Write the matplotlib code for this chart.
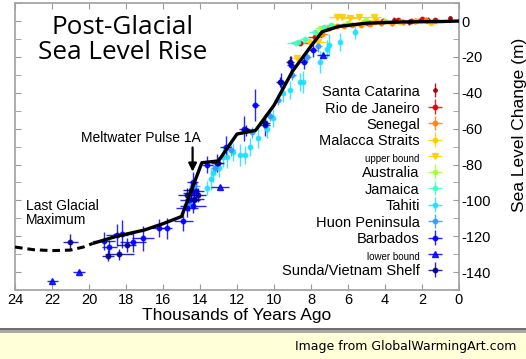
"""Post-Glacial Sea Level Rise — reconstruction"""

import matplotlib
matplotlib.use('Agg')
import matplotlib.pyplot as plt
from matplotlib.patches import Rectangle
from matplotlib.ticker import MultipleLocator

plt.rcParams['font.family'] = ['Liberation Sans', 'DejaVu Sans']
plt.rcParams['axes.unicode_minus'] = False

# средняя кривая (тыс. лет назад, м)
curve_t = [19.8, 18.5, 17.0, 16.0, 15.0, 13.9, 13.0, 12.0, 11.0, 10.0,
           9.0, 8.0, 7.4, 6.5, 5.0, 3.0, 1.0, 0.0]
curve_v = [-124, -120, -116.5, -113, -109, -79, -78, -63, -61, -47,
           -28, -14, -6, -3, -1.2, -0.5, -0.3, 0]
lgm_t = [24.0, 23.0, 22.0, 21.0, 20.3, 19.8]
lgm_v = [-126, -127.5, -128, -127.7, -126, -124]

# данные по участкам: время, уровень, ошибки
santa_t = [4.5, 3.5, 2.7, 1.7, 0.49]
santa_v = [0, 0.5, -0.5, 0.8, 1.5]
santa_verr = [1.5, 1.5, 1.5, 1.5, 1.5]

rio_t = [8.6, 7.78, 4.9, 4.1, 3.3, 2.6, 2.0, 1.3]
rio_v = [-12, -8.7, -1, 0, 0.5, 0, 1, 0.5]
rio_terr = [0.5, 0.4, 0.3, 0.3, 0.3, 0.3, 0.3, 0.3]
rio_verr = [1, 1, 1, 1, 1, 1, 1, 1]

senegal_t = [7.4, 7.0, 6.6, 6.2, 5.8, 5.3, 4.8, 4.2, 3.6, 3.0, 2.4, 1.8]
senegal_v = [-7, -4, -3, -2.5, -2, -2, -1.5, -1, -1, -0.5, 0, 0.5]
senegal_terr = [0.3, 0.3, 0.3, 0.3, 0.3, 0.3, 0.3, 0.3, 0.3, 0.3, 0.3, 0.3]
senegal_verr = [1.5, 1.5, 1.5, 1.5, 1.5, 1.5, 1.5, 1.5, 1.5, 1.5, 1.5, 1.5]

malacca_t = [8.05, 7.6, 6.9, 6.0, 5.2, 4.5, 3.2, 2.3, 1.5]
malacca_v = [-11.5, -8, -3, -1.5, -1, 0.5, -0.5, 0, -1]
malacca_terr = [0.4, 0.3, 0.3, 0.3, 0.3, 0.3, 0.3, 0.3, 0.3]
malacca_verr = [1, 1, 1, 1, 1, 1, 1, 1, 1]

upper_t = [8.77, 7.6, 6.6, 6.3, 5.9, 5.4, 4.6]
upper_v = [-20.8, -11.5, 2, 2.5, 1.5, 2, 2.5]
upper_terr = [0.4, 0.4, 0.4, 0.4, 0.4, 0.4, 0.4]

australia_t = [7.5, 6.8, 6.0, 5.0, 4.0]
australia_v = [-4, -2.5, -1, 0.5, 0]
australia_terr = [0.3, 0.3, 0.3, 0.3, 0.3]
australia_verr = [1, 1, 1, 1, 1]

jamaica_t = [8.8, 8.7, 8.3, 7.8, 7.3, 6.9]
jamaica_v = [-12, -11.5, -10, -6, -3.5, -2]
jamaica_terr = [0.5, 0.4, 0.3, 0.3, 0.3, 0.3]
jamaica_verr = [1, 1, 1, 1, 1, 1]

tahiti_t = [13.64, 13.4, 13.3, 12.95, 12.74, 12.56, 12.2, 11.84, 11.57, 11.3,
            10.85, 10.4, 10.05, 9.5, 9.13, 8.6, 8.43, 7.5, 7.15, 7.0, 6.43, 5.6]
tahiti_v = [-93, -88, -85, -82, -75.6, -76, -73, -74.7, -74.7, -70,
            -65, -60, -54, -40, -38.5, -33.8, -34, -22.7, -15.8, -13.4, -11.5, -6]
tahiti_terr = [0.1] * 22
tahiti_verr = [4, 6, 5, 5, 6, 6, 5, 6, 5, 5, 6, 5, 5, 5, 5, 5, 6, 6, 5, 6, 5, 4]

huon_t = [14.6, 14.3, 13.2, 12.3, 11.2, 10.2, 9.8, 9.0, 8.2, 7.6]
huon_v = [-102, -92, -82, -72, -62, -53, -44, -30, -20, -14]
huon_terr = [0.3, 0.3, 0.2, 0.2, 0.2, 0.2, 0.2, 0.2, 0.2, 0.2]
huon_verr = [3, 3, 3, 3, 3, 3, 3, 3, 3, 3]

barbados_t = [19.2, 18.9, 18.5, 18.2, 17.6, 17.1, 16.2, 15.8, 14.9, 14.7,
              14.6, 14.5, 14.4, 14.4, 14.3, 14.2, 13.6, 13.1, 12.6, 11.6,
              11.0, 10.5, 9.6, 9.1, 8.4, 7.9]
barbados_v = [-122.5, -126, -119.3, -118.8, -123, -121, -115.6, -115.6, -111.3, -104,
              -100, -96, -103, -90, -99, -95, -80, -79, -70, -60,
              -47, -58, -34, -24.5, -22.7, -16]
barbados_terr = [0.6, 0.4, 0.6, 0.5, 0.7, 0.6, 0.4, 0.3, 0.5, 0.6,
                 0.5, 0.4, 0.7, 0.3, 0.5, 0.4, 0.3, 0.3, 0.3, 0.3,
                 0.2, 0.3, 0.2, 0.2, 0.2, 0.2]
barbados_verr = [5, 4, 6, 8, 6, 7, 5, 6, 6, 5,
                 6, 5, 4, 6, 5, 5, 5, 5, 6, 7,
                 9, 6, 5, 5, 4, 4]

lower_t = [21.98, 20.54, 12.92, 7.35]
lower_v = [-145, -140, -92.6, -19.2]
lower_terr = [0.3, 0.3, 0.5, 0.3]

sunda_t = [21.0, 18.97, 18.36, 17.96, 14.7, 14.5, 14.3, 14.1, 13.0, 11.5,
           10.5, 9.7, 9.14]
sunda_v = [-123, -130.8, -130, -125, -97, -94, -100, -97, -79, -61,
           -57, -34, -22.7]
sunda_terr = [0.4, 0.3, 0.8, 0.5, 0.5, 0.4, 0.3, 0.4, 0.3, 0.3, 0.3, 0.2, 0.2]
sunda_verr = [4, 3, 3, 4, 4, 5, 5, 4, 3, 3, 3, 3, 3]

x_ticks = [24, 22, 20, 18, 16, 14, 12, 10, 8, 6, 4, 2, 0]
y_ticks = [0, -20, -40, -60, -80, -100, -120, -140]


fig = plt.figure(figsize=(5.26, 3.59), dpi=100)
ax = fig.add_axes([0.0285, 0.192, 0.8441, 0.7994])


def site(t, v, color, label, terr=None, verr=None, marker='o', ms=3.2):
    return ax.errorbar(t, v, xerr=terr, yerr=verr, fmt=marker, ms=ms,
                       color=color, ecolor=color, elinewidth=1.0,
                       capsize=0, alpha=0.85, label=label, zorder=3)


h = []
h.append(site(santa_t, santa_v, '#990000', 'Santa Catarina', None, santa_verr, ms=2.5))
h.append(site(rio_t, rio_v, '#e00000', 'Rio de Janeiro', rio_terr, rio_verr))
h.append(site(senegal_t, senegal_v, '#ff8000', 'Senegal', senegal_terr, senegal_verr))
h.append(site(malacca_t, malacca_v, '#ffcc00', 'Malacca Straits', malacca_terr, malacca_verr))
h.append(site(upper_t, upper_v, '#ffcc00', 'upper bound', upper_terr, None, marker='v', ms=5))
h.append(site(australia_t, australia_v, '#a0ff40', 'Australia', australia_terr, australia_verr))
h.append(site(jamaica_t, jamaica_v, '#40ffc0', 'Jamaica', jamaica_terr, jamaica_verr))
h.append(site(tahiti_t, tahiti_v, '#20e0ff', 'Tahiti', tahiti_terr, tahiti_verr))
h.append(site(huon_t, huon_v, '#3399ff', 'Huon Peninsula', huon_terr, huon_verr))
h.append(site(barbados_t, barbados_v, '#0000ff', 'Barbados', barbados_terr, barbados_verr))
h.append(site(lower_t, lower_v, '#0000ff', 'lower bound', lower_terr, None, marker='^', ms=5))
h.append(site(sunda_t, sunda_v, '#000099', 'Sunda/Vietnam Shelf', sunda_terr, sunda_verr))

# средняя кривая
ax.plot(curve_t, curve_v, color='black', lw=2.4, zorder=5, solid_capstyle='butt')
ax.plot(lgm_t, lgm_v, color='black', lw=2.2, ls=(0, (2.5, 1.6)), zorder=5)

ax.set_xlim(24, 0)
ax.set_ylim(-150, 10)
ax.set_xticks(x_ticks)
ax.set_yticks(y_ticks)
ax.yaxis.set_minor_locator(MultipleLocator(10))
ax.tick_params(which='both', direction='in', top=True, bottom=True,
               left=True, right=True, labelleft=False, labelright=True,
               color='#999999', labelsize=10.5, pad=2)
ax.tick_params(which='major', length=4)
ax.tick_params(which='minor', length=4)
for s in ax.spines.values():
    s.set_color('#a0a0a0')
    s.set_linewidth(1.2)

ax.set_xlabel('Thousands of Years Ago', fontsize=12.5, labelpad=1)
ax.yaxis.set_label_position('right')
ax.set_ylabel('Sea Level Change (m)', fontsize=12.5, rotation=90)
ax.yaxis.set_label_coords(1.12, 0.575)

ax.text(0.243, 0.872, 'Post-Glacial\nSea Level Rise', transform=ax.transAxes,
        ha='center', va='center', fontsize=18.8, family='Open Sans',
        linespacing=1.02)

# Meltwater Pulse 1A: подпись и вертикальная стрелка
ax.text(13.95, -65, 'Meltwater Pulse 1A', ha='right', va='center', fontsize=10)
ax.annotate('', xy=(14.4, -84), xytext=(14.4, -70.5),
            arrowprops=dict(arrowstyle='-|>', color='black', lw=1.6,
                            mutation_scale=12, shrinkA=0, shrinkB=0))
ax.text(23.4, -107, 'Last Glacial\nMaximum', ha='left', va='center',
        fontsize=10, linespacing=1.05)

leg = ax.legend(handles=h, loc='lower right', bbox_to_anchor=(0.997, 0.0),
                frameon=False, markerfirst=False, fontsize=10.5,
                handlelength=1.5, handletextpad=0.3, labelspacing=0.12,
                handleheight=1.05, borderpad=0.3)
for t in leg.get_texts():
    if t.get_text() in ('upper bound', 'lower bound'):
        t.set_fontsize(7)

# подвал
fig.patches.append(Rectangle((0, 0), 1, 26 / 359, transform=fig.transFigure,
                             facecolor='#ffffd8', edgecolor='none'))
fig.patches.append(Rectangle((0, 26 / 359), 1, 5 / 359, transform=fig.transFigure,
                             facecolor='#a8a8a8', edgecolor='none'))
fig.patches.append(Rectangle((0, 29 / 359), 1, 2 / 359, transform=fig.transFigure,
                             facecolor='#707070', edgecolor='none'))
fig.text(0.981, 0.034, 'Image from GlobalWarmingArt.com', ha='right',
         va='center', fontsize=9, family='DejaVu Sans')

fig.savefig('out.png', dpi=100)
